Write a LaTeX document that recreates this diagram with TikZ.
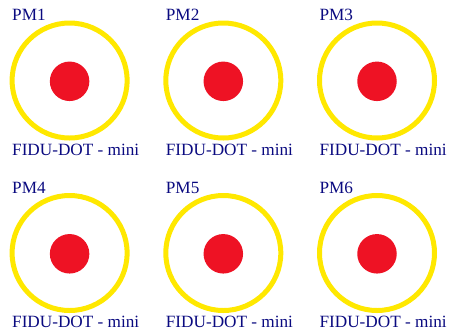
\documentclass[tikz,border=0pt]{standalone}
\usepackage{fontspec}
\setmainfont{Liberation Serif}
\definecolor{ringyellow}{RGB}{255,232,0}
\definecolor{dotred}{RGB}{238,18,36}
\definecolor{labelblue}{RGB}{10,10,128}
\begin{document}
\begin{tikzpicture}[x=1pt,y=-1pt,
  ring/.style={draw=ringyellow,line width=5pt,circle,minimum size=115pt,inner sep=0pt},
  reddot/.style={fill=dotred,circle,minimum size=39.5pt,inner sep=0pt},
  lbl/.style={text=labelblue,font=\fontsize{17.2}{20}\selectfont,anchor=base west,inner sep=0pt}]
\useasboundingbox (0,0) rectangle (450,333);
\foreach \n/\cx/\cy in {1/69.6/80.5, 2/223.3/80.5, 3/377/80.5, 4/69.6/253, 5/223.3/253, 6/377/253}{
  \node[ring] (ring\n) at (\cx,\cy) {};
  \node[reddot] (dot\n) at (\cx,\cy+0.8) {};
  \node[lbl] (pm\n) at (\cx-57.6,\cy-60) {PM\n};
  \node[lbl] (fidu\n) at (\cx-57.6,\cy+74.5) {FIDU-DOT - mini};
}
\end{tikzpicture}
\end{document}
